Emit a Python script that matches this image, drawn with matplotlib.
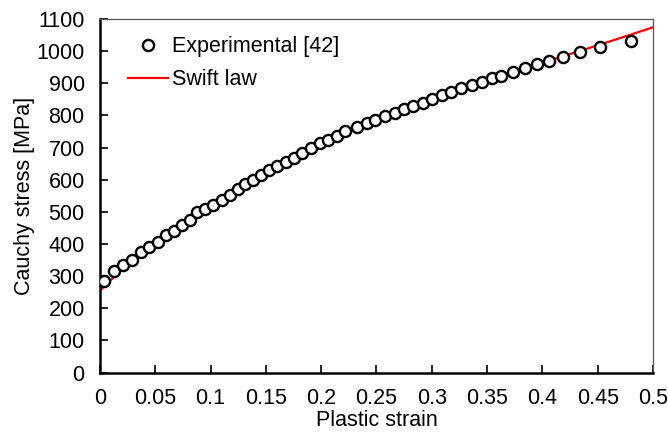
import matplotlib
matplotlib.use("Agg")
import matplotlib.pyplot as plt

plt.rcParams['font.family'] = ['Liberation Sans', 'DejaVu Sans']

# experimental flow curve
strain_exp = [0.0036, 0.0127, 0.0212, 0.0288, 0.0370, 0.0446, 0.0520, 0.0594,
              0.0666, 0.0744, 0.0814, 0.0874, 0.0949, 0.1025, 0.1100, 0.1175,
              0.1250, 0.1310, 0.1386, 0.1456, 0.1530, 0.1600, 0.1680, 0.1750,
              0.1830, 0.1905, 0.1989, 0.2064, 0.2140, 0.2215, 0.2320, 0.2410,
              0.2490, 0.2577, 0.2667, 0.2750, 0.2830, 0.2917, 0.2998, 0.3090,
              0.3170, 0.3260, 0.3360, 0.3450, 0.3540, 0.3630, 0.3737, 0.3840,
              0.3950, 0.4063, 0.4190, 0.4340, 0.4520, 0.4800]
stress_exp = [286, 317, 333, 351, 375, 391, 406, 427,
              441, 460, 475, 498, 509, 522, 538, 553,
              572, 587, 600, 615, 629, 644, 655, 667,
              683, 699, 714, 724, 736, 750, 763, 776,
              786, 797, 809, 819, 830, 840, 851, 864,
              874, 885, 895, 905, 916, 924, 936, 947,
              960, 969, 982, 996, 1014, 1032]

# Swift law fit
strain_fit = [0.0, 0.025, 0.05, 0.075, 0.1, 0.125, 0.15, 0.175, 0.2, 0.225,
              0.25, 0.275, 0.3, 0.325, 0.35, 0.375, 0.4, 0.425, 0.45, 0.475, 0.5]
stress_fit = [255, 338, 402, 459, 516, 570, 621, 667, 710, 750,
              787, 821, 853, 883, 911, 938, 964, 991, 1018, 1046, 1074]

fs = 15.5

fig = plt.figure(figsize=(6.68, 4.34), dpi=100)
ax = fig.add_axes([0.1497, 0.1417, 0.8278, 0.8145])

ax.plot(strain_exp, stress_exp, 'o', mfc='white', mec='black', mew=1.7,
        ms=8, label='Experimental [42]', zorder=3)
ax.plot(strain_fit, stress_fit, '-', color='red', lw=1.6, label='Swift law',
        zorder=2)

ax.set_xlim(0, 0.5)
ax.set_ylim(0, 1100)
ax.set_xticks([0, 0.05, 0.1, 0.15, 0.2, 0.25, 0.3, 0.35, 0.4, 0.45, 0.5])
ax.set_xticklabels(['0', '0.05', '0.1', '0.15', '0.2', '0.25', '0.3', '0.35',
                    '0.4', '0.45', '0.5'])
ax.set_yticks(range(0, 1101, 100))
ax.tick_params(direction='in', length=6, width=1.2, labelsize=fs)
ax.tick_params(axis='x', pad=11.5)
ax.tick_params(axis='y', pad=11)

for side in ['left', 'bottom']:
    ax.spines[side].set_linewidth(1.8)
for side in ['top', 'right']:
    ax.spines[side].set_linewidth(0.9)
    ax.spines[side].set_color('#555555')

ax.set_xlabel('Plastic strain', fontsize=fs, labelpad=0.5)
ax.set_ylabel('Cauchy stress [MPa]', fontsize=fs, labelpad=1)

ax.legend(loc='upper left', frameon=False, fontsize=fs, handlelength=1.85,
          handletextpad=0.2, borderaxespad=0.4, labelspacing=0.55,
          bbox_to_anchor=(0.02, 1.0))

fig.savefig('out.png', dpi=100)
